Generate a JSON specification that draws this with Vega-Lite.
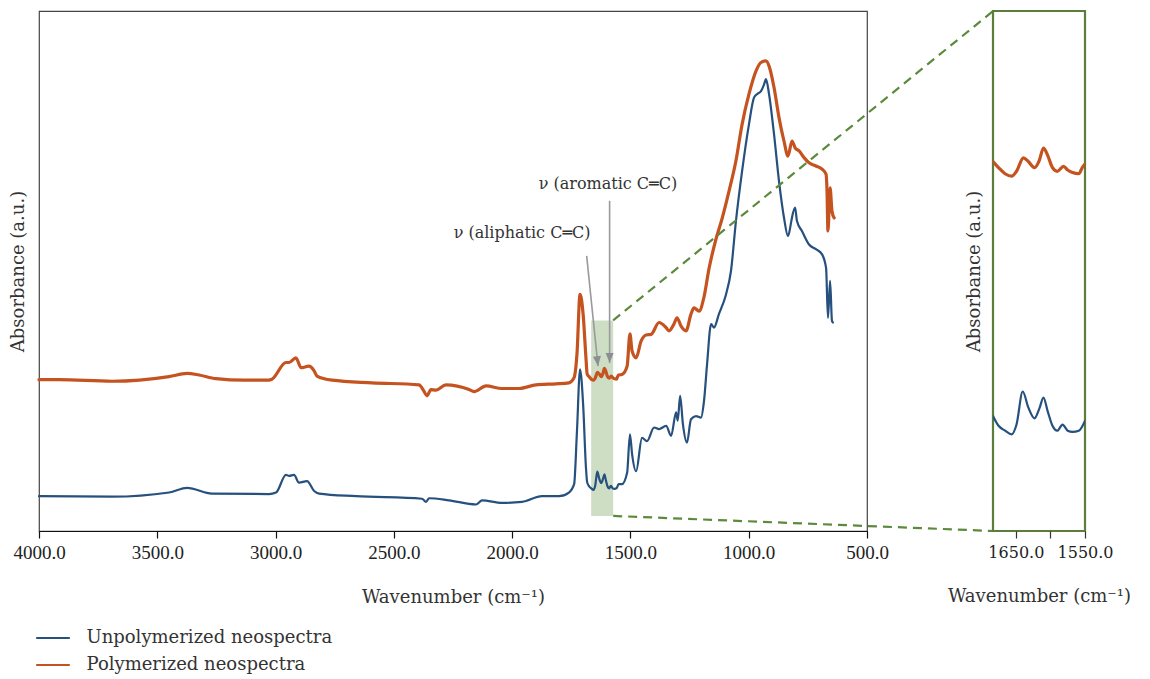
{
  "$schema": "https://vega.github.io/schema/vega-lite/v6.json",
  "background": "white",
  "padding": {"left": 8, "top": 9, "right": 5, "bottom": 5},
  "spacing": 126,
  "bounds": "flush",
  "config": {
    "axis": {"grid": false, "titleFont": "DejaVu Serif", "titleFontWeight": "normal", "titleFontSize": 18, "titleColor": "#333", "labelFlush": false}
  },
  "datasets": {
    "spectra": [
      {"series": "Polymerized neospectra", "wn": 4000, "a": 0.291},
      {"series": "Polymerized neospectra", "wn": 3915, "a": 0.291},
      {"series": "Polymerized neospectra", "wn": 3691, "a": 0.288},
      {"series": "Polymerized neospectra", "wn": 3450, "a": 0.297},
      {"series": "Polymerized neospectra", "wn": 3374, "a": 0.303},
      {"series": "Polymerized neospectra", "wn": 3324, "a": 0.300},
      {"series": "Polymerized neospectra", "wn": 3252, "a": 0.293},
      {"series": "Polymerized neospectra", "wn": 3133, "a": 0.290},
      {"series": "Polymerized neospectra", "wn": 3028, "a": 0.290},
      {"series": "Polymerized neospectra", "wn": 3015, "a": 0.292},
      {"series": "Polymerized neospectra", "wn": 2956, "a": 0.324},
      {"series": "Polymerized neospectra", "wn": 2943, "a": 0.324},
      {"series": "Polymerized neospectra", "wn": 2914, "a": 0.333},
      {"series": "Polymerized neospectra", "wn": 2892, "a": 0.314},
      {"series": "Polymerized neospectra", "wn": 2859, "a": 0.317},
      {"series": "Polymerized neospectra", "wn": 2837, "a": 0.308},
      {"series": "Polymerized neospectra", "wn": 2825, "a": 0.298},
      {"series": "Polymerized neospectra", "wn": 2761, "a": 0.290},
      {"series": "Polymerized neospectra", "wn": 2592, "a": 0.285},
      {"series": "Polymerized neospectra", "wn": 2394, "a": 0.281},
      {"series": "Polymerized neospectra", "wn": 2373, "a": 0.269},
      {"series": "Polymerized neospectra", "wn": 2360, "a": 0.260},
      {"series": "Polymerized neospectra", "wn": 2343, "a": 0.272},
      {"series": "Polymerized neospectra", "wn": 2322, "a": 0.271},
      {"series": "Polymerized neospectra", "wn": 2280, "a": 0.281},
      {"series": "Polymerized neospectra", "wn": 2182, "a": 0.272},
      {"series": "Polymerized neospectra", "wn": 2161, "a": 0.268},
      {"series": "Polymerized neospectra", "wn": 2110, "a": 0.279},
      {"series": "Polymerized neospectra", "wn": 2043, "a": 0.274},
      {"series": "Polymerized neospectra", "wn": 1971, "a": 0.274},
      {"series": "Polymerized neospectra", "wn": 1899, "a": 0.281},
      {"series": "Polymerized neospectra", "wn": 1815, "a": 0.283},
      {"series": "Polymerized neospectra", "wn": 1760, "a": 0.285},
      {"series": "Polymerized neospectra", "wn": 1738, "a": 0.295},
      {"series": "Polymerized neospectra", "wn": 1726, "a": 0.340},
      {"series": "Polymerized neospectra", "wn": 1713, "a": 0.455},
      {"series": "Polymerized neospectra", "wn": 1700, "a": 0.417},
      {"series": "Polymerized neospectra", "wn": 1688, "a": 0.333},
      {"series": "Polymerized neospectra", "wn": 1683, "a": 0.302},
      {"series": "Polymerized neospectra", "wn": 1675, "a": 0.297},
      {"series": "Polymerized neospectra", "wn": 1665.5, "a": 0.292},
      {"series": "Polymerized neospectra", "wn": 1656, "a": 0.290},
      {"series": "Polymerized neospectra", "wn": 1649, "a": 0.294},
      {"series": "Polymerized neospectra", "wn": 1639, "a": 0.305},
      {"series": "Polymerized neospectra", "wn": 1632, "a": 0.302},
      {"series": "Polymerized neospectra", "wn": 1623, "a": 0.297},
      {"series": "Polymerized neospectra", "wn": 1616, "a": 0.303},
      {"series": "Polymerized neospectra", "wn": 1610, "a": 0.313},
      {"series": "Polymerized neospectra", "wn": 1604, "a": 0.307},
      {"series": "Polymerized neospectra", "wn": 1597, "a": 0.297},
      {"series": "Polymerized neospectra", "wn": 1590, "a": 0.294},
      {"series": "Polymerized neospectra", "wn": 1581, "a": 0.298},
      {"series": "Polymerized neospectra", "wn": 1575, "a": 0.295},
      {"series": "Polymerized neospectra", "wn": 1568, "a": 0.293},
      {"series": "Polymerized neospectra", "wn": 1559, "a": 0.292},
      {"series": "Polymerized neospectra", "wn": 1554, "a": 0.297},
      {"series": "Polymerized neospectra", "wn": 1550, "a": 0.300},
      {"series": "Polymerized neospectra", "wn": 1536, "a": 0.301},
      {"series": "Polymerized neospectra", "wn": 1514, "a": 0.317},
      {"series": "Polymerized neospectra", "wn": 1502, "a": 0.379},
      {"series": "Polymerized neospectra", "wn": 1493, "a": 0.346},
      {"series": "Polymerized neospectra", "wn": 1476, "a": 0.333},
      {"series": "Polymerized neospectra", "wn": 1455, "a": 0.365},
      {"series": "Polymerized neospectra", "wn": 1434, "a": 0.377},
      {"series": "Polymerized neospectra", "wn": 1413, "a": 0.378},
      {"series": "Polymerized neospectra", "wn": 1379, "a": 0.401},
      {"series": "Polymerized neospectra", "wn": 1349, "a": 0.391},
      {"series": "Polymerized neospectra", "wn": 1337, "a": 0.385},
      {"series": "Polymerized neospectra", "wn": 1316, "a": 0.398},
      {"series": "Polymerized neospectra", "wn": 1303, "a": 0.410},
      {"series": "Polymerized neospectra", "wn": 1286, "a": 0.394},
      {"series": "Polymerized neospectra", "wn": 1265, "a": 0.385},
      {"series": "Polymerized neospectra", "wn": 1244, "a": 0.417},
      {"series": "Polymerized neospectra", "wn": 1231, "a": 0.429},
      {"series": "Polymerized neospectra", "wn": 1210, "a": 0.423},
      {"series": "Polymerized neospectra", "wn": 1189, "a": 0.450},
      {"series": "Polymerized neospectra", "wn": 1168, "a": 0.504},
      {"series": "Polymerized neospectra", "wn": 1138, "a": 0.562},
      {"series": "Polymerized neospectra", "wn": 1113, "a": 0.600},
      {"series": "Polymerized neospectra", "wn": 1083, "a": 0.654},
      {"series": "Polymerized neospectra", "wn": 1054, "a": 0.712},
      {"series": "Polymerized neospectra", "wn": 1028, "a": 0.782},
      {"series": "Polymerized neospectra", "wn": 999, "a": 0.840},
      {"series": "Polymerized neospectra", "wn": 969, "a": 0.885},
      {"series": "Polymerized neospectra", "wn": 948, "a": 0.901},
      {"series": "Polymerized neospectra", "wn": 927, "a": 0.904},
      {"series": "Polymerized neospectra", "wn": 914, "a": 0.894},
      {"series": "Polymerized neospectra", "wn": 893, "a": 0.853},
      {"series": "Polymerized neospectra", "wn": 872, "a": 0.795},
      {"series": "Polymerized neospectra", "wn": 851, "a": 0.750},
      {"series": "Polymerized neospectra", "wn": 834, "a": 0.721},
      {"series": "Polymerized neospectra", "wn": 817, "a": 0.750},
      {"series": "Polymerized neospectra", "wn": 804, "a": 0.737},
      {"series": "Polymerized neospectra", "wn": 787, "a": 0.731},
      {"series": "Polymerized neospectra", "wn": 766, "a": 0.718},
      {"series": "Polymerized neospectra", "wn": 745, "a": 0.708},
      {"series": "Polymerized neospectra", "wn": 716, "a": 0.702},
      {"series": "Polymerized neospectra", "wn": 690, "a": 0.696},
      {"series": "Polymerized neospectra", "wn": 673, "a": 0.686},
      {"series": "Polymerized neospectra", "wn": 669, "a": 0.654},
      {"series": "Polymerized neospectra", "wn": 665, "a": 0.577},
      {"series": "Polymerized neospectra", "wn": 656, "a": 0.660},
      {"series": "Polymerized neospectra", "wn": 648, "a": 0.615},
      {"series": "Polymerized neospectra", "wn": 639, "a": 0.602},

      {"series": "Unpolymerized neospectra", "wn": 4000, "a": 0.067},
      {"series": "Unpolymerized neospectra", "wn": 3691, "a": 0.066},
      {"series": "Unpolymerized neospectra", "wn": 3450, "a": 0.074},
      {"series": "Unpolymerized neospectra", "wn": 3374, "a": 0.083},
      {"series": "Unpolymerized neospectra", "wn": 3269, "a": 0.072},
      {"series": "Unpolymerized neospectra", "wn": 3028, "a": 0.071},
      {"series": "Unpolymerized neospectra", "wn": 2998, "a": 0.074},
      {"series": "Unpolymerized neospectra", "wn": 2956, "a": 0.108},
      {"series": "Unpolymerized neospectra", "wn": 2943, "a": 0.106},
      {"series": "Unpolymerized neospectra", "wn": 2922, "a": 0.108},
      {"series": "Unpolymerized neospectra", "wn": 2901, "a": 0.093},
      {"series": "Unpolymerized neospectra", "wn": 2867, "a": 0.096},
      {"series": "Unpolymerized neospectra", "wn": 2837, "a": 0.077},
      {"series": "Unpolymerized neospectra", "wn": 2816, "a": 0.072},
      {"series": "Unpolymerized neospectra", "wn": 2660, "a": 0.067},
      {"series": "Unpolymerized neospectra", "wn": 2381, "a": 0.062},
      {"series": "Unpolymerized neospectra", "wn": 2364, "a": 0.056},
      {"series": "Unpolymerized neospectra", "wn": 2351, "a": 0.063},
      {"series": "Unpolymerized neospectra", "wn": 2267, "a": 0.059},
      {"series": "Unpolymerized neospectra", "wn": 2153, "a": 0.051},
      {"series": "Unpolymerized neospectra", "wn": 2127, "a": 0.059},
      {"series": "Unpolymerized neospectra", "wn": 2043, "a": 0.054},
      {"series": "Unpolymerized neospectra", "wn": 1958, "a": 0.056},
      {"series": "Unpolymerized neospectra", "wn": 1874, "a": 0.067},
      {"series": "Unpolymerized neospectra", "wn": 1802, "a": 0.067},
      {"series": "Unpolymerized neospectra", "wn": 1760, "a": 0.074},
      {"series": "Unpolymerized neospectra", "wn": 1738, "a": 0.090},
      {"series": "Unpolymerized neospectra", "wn": 1726, "a": 0.192},
      {"series": "Unpolymerized neospectra", "wn": 1713, "a": 0.311},
      {"series": "Unpolymerized neospectra", "wn": 1700, "a": 0.244},
      {"series": "Unpolymerized neospectra", "wn": 1688, "a": 0.122},
      {"series": "Unpolymerized neospectra", "wn": 1683, "a": 0.094},
      {"series": "Unpolymerized neospectra", "wn": 1675, "a": 0.086},
      {"series": "Unpolymerized neospectra", "wn": 1665.5, "a": 0.082},
      {"series": "Unpolymerized neospectra", "wn": 1656, "a": 0.079},
      {"series": "Unpolymerized neospectra", "wn": 1649, "a": 0.087},
      {"series": "Unpolymerized neospectra", "wn": 1640, "a": 0.114},
      {"series": "Unpolymerized neospectra", "wn": 1632, "a": 0.101},
      {"series": "Unpolymerized neospectra", "wn": 1623, "a": 0.092},
      {"series": "Unpolymerized neospectra", "wn": 1616, "a": 0.100},
      {"series": "Unpolymerized neospectra", "wn": 1610, "a": 0.109},
      {"series": "Unpolymerized neospectra", "wn": 1604, "a": 0.098},
      {"series": "Unpolymerized neospectra", "wn": 1597, "a": 0.086},
      {"series": "Unpolymerized neospectra", "wn": 1590, "a": 0.082},
      {"series": "Unpolymerized neospectra", "wn": 1582.5, "a": 0.087},
      {"series": "Unpolymerized neospectra", "wn": 1575, "a": 0.082},
      {"series": "Unpolymerized neospectra", "wn": 1568, "a": 0.081},
      {"series": "Unpolymerized neospectra", "wn": 1559, "a": 0.082},
      {"series": "Unpolymerized neospectra", "wn": 1550, "a": 0.090},
      {"series": "Unpolymerized neospectra", "wn": 1536, "a": 0.090},
      {"series": "Unpolymerized neospectra", "wn": 1514, "a": 0.112},
      {"series": "Unpolymerized neospectra", "wn": 1502, "a": 0.186},
      {"series": "Unpolymerized neospectra", "wn": 1493, "a": 0.148},
      {"series": "Unpolymerized neospectra", "wn": 1476, "a": 0.115},
      {"series": "Unpolymerized neospectra", "wn": 1451, "a": 0.179},
      {"series": "Unpolymerized neospectra", "wn": 1430, "a": 0.173},
      {"series": "Unpolymerized neospectra", "wn": 1400, "a": 0.199},
      {"series": "Unpolymerized neospectra", "wn": 1379, "a": 0.196},
      {"series": "Unpolymerized neospectra", "wn": 1349, "a": 0.202},
      {"series": "Unpolymerized neospectra", "wn": 1328, "a": 0.183},
      {"series": "Unpolymerized neospectra", "wn": 1307, "a": 0.228},
      {"series": "Unpolymerized neospectra", "wn": 1300, "a": 0.212},
      {"series": "Unpolymerized neospectra", "wn": 1290, "a": 0.260},
      {"series": "Unpolymerized neospectra", "wn": 1278, "a": 0.205},
      {"series": "Unpolymerized neospectra", "wn": 1261, "a": 0.170},
      {"series": "Unpolymerized neospectra", "wn": 1244, "a": 0.215},
      {"series": "Unpolymerized neospectra", "wn": 1223, "a": 0.221},
      {"series": "Unpolymerized neospectra", "wn": 1202, "a": 0.218},
      {"series": "Unpolymerized neospectra", "wn": 1189, "a": 0.250},
      {"series": "Unpolymerized neospectra", "wn": 1176, "a": 0.321},
      {"series": "Unpolymerized neospectra", "wn": 1159, "a": 0.398},
      {"series": "Unpolymerized neospectra", "wn": 1147, "a": 0.391},
      {"series": "Unpolymerized neospectra", "wn": 1126, "a": 0.417},
      {"series": "Unpolymerized neospectra", "wn": 1096, "a": 0.455},
      {"series": "Unpolymerized neospectra", "wn": 1075, "a": 0.500},
      {"series": "Unpolymerized neospectra", "wn": 1054, "a": 0.596},
      {"series": "Unpolymerized neospectra", "wn": 1028, "a": 0.692},
      {"series": "Unpolymerized neospectra", "wn": 999, "a": 0.782},
      {"series": "Unpolymerized neospectra", "wn": 978, "a": 0.833},
      {"series": "Unpolymerized neospectra", "wn": 965, "a": 0.840},
      {"series": "Unpolymerized neospectra", "wn": 948, "a": 0.846},
      {"series": "Unpolymerized neospectra", "wn": 935, "a": 0.859},
      {"series": "Unpolymerized neospectra", "wn": 927, "a": 0.869},
      {"series": "Unpolymerized neospectra", "wn": 914, "a": 0.840},
      {"series": "Unpolymerized neospectra", "wn": 893, "a": 0.763},
      {"series": "Unpolymerized neospectra", "wn": 872, "a": 0.673},
      {"series": "Unpolymerized neospectra", "wn": 851, "a": 0.603},
      {"series": "Unpolymerized neospectra", "wn": 834, "a": 0.567},
      {"series": "Unpolymerized neospectra", "wn": 821, "a": 0.593},
      {"series": "Unpolymerized neospectra", "wn": 817, "a": 0.603},
      {"series": "Unpolymerized neospectra", "wn": 804, "a": 0.622},
      {"series": "Unpolymerized neospectra", "wn": 796, "a": 0.596},
      {"series": "Unpolymerized neospectra", "wn": 775, "a": 0.577},
      {"series": "Unpolymerized neospectra", "wn": 745, "a": 0.551},
      {"series": "Unpolymerized neospectra", "wn": 716, "a": 0.542},
      {"series": "Unpolymerized neospectra", "wn": 690, "a": 0.532},
      {"series": "Unpolymerized neospectra", "wn": 673, "a": 0.506},
      {"series": "Unpolymerized neospectra", "wn": 665, "a": 0.410},
      {"series": "Unpolymerized neospectra", "wn": 656, "a": 0.481},
      {"series": "Unpolymerized neospectra", "wn": 648, "a": 0.404},
      {"series": "Unpolymerized neospectra", "wn": 644, "a": 0.401}
    ],
    "zoomWindow": [
      {"wn": 1666, "wn2": 1573, "a": 0.029, "a2": 0.405}
    ],
    "connectors": [
      {"wn": 1573, "a": 0.405, "wn2": -33, "a2": 1.0},
      {"wn": 1573, "a": 0.029, "wn2": -33, "a2": 0.0}
    ],
    "notes": [
      {"label": "ν (aromatic C═C)", "tx": 1595, "ty": 0.667, "x0": 1588, "y0": 0.635, "x1": 1588, "y1": 0.323},
      {"label": "ν (aliphatic C═C)", "tx": 1958, "ty": 0.573, "x0": 1685, "y0": 0.529, "x1": 1637, "y1": 0.317}
    ]
  },
  "hconcat": [
    {
      "width": 828,
      "height": 520,
      "view": {"stroke": "#444", "strokeWidth": 1.2},
      "layer": [
        {
          "data": {"name": "zoomWindow"},
          "mark": {"type": "rect", "fill": "#9dbd8c", "opacity": 0.5},
          "encoding": {
            "x": {"field": "wn", "type": "quantitative"},
            "x2": {"field": "wn2"},
            "y": {"field": "a", "type": "quantitative"},
            "y2": {"field": "a2"}
          }
        },
        {
          "data": {"name": "spectra"},
          "transform": [{"filter": "datum.series == 'Unpolymerized neospectra'"}],
          "mark": {"type": "line", "interpolate": "monotone", "strokeWidth": 2.2, "strokeJoin": "round", "strokeCap": "round"},
          "encoding": {
            "x": {
              "field": "wn", "type": "quantitative",
              "scale": {"domain": [500, 4000], "reverse": true, "nice": false, "zero": false},
              "axis": {
                "values": [4000, 3500, 3000, 2500, 2000, 1500, 1000, 500],
                "format": ".1f", "title": "Wavenumber (cm⁻¹)",
                "labelFont": "Liberation Serif", "labelFontSize": 19, "labelColor": "#222",
                "domainColor": "#111", "domainWidth": 1.2, "tickColor": "#111", "tickWidth": 1.2, "tickSize": 7,
                "labelPadding": 5, "titlePadding": 26
              }
            },
            "y": {
              "field": "a", "type": "quantitative",
              "scale": {"domain": [0, 1], "nice": false, "zero": false},
              "axis": {"title": "Absorbance (a.u.)", "labels": false, "ticks": false, "domain": false, "titlePadding": 12}
            },
            "color": {
              "field": "series", "type": "nominal",
              "scale": {"domain": ["Unpolymerized neospectra", "Polymerized neospectra"], "range": ["#26507d", "#c5531f"]},
              "legend": {
                "title": null, "orient": "none", "legendX": 2, "legendY": 615, "padding": 0,
                "labelFont": "DejaVu Serif", "labelFontSize": 18, "labelColor": "#333", "labelOffset": 21.5, "labelLimit": 0,
                "symbolType": "M-1.6,0H1.6", "symbolSize": 441, "symbolStrokeWidth": 2.2, "rowPadding": 6
              }
            }
          }
        },
        {
          "data": {"name": "spectra"},
          "transform": [{"filter": "datum.series == 'Polymerized neospectra'"}],
          "mark": {"type": "line", "interpolate": "monotone", "strokeWidth": 3.2, "strokeJoin": "round", "strokeCap": "round"},
          "encoding": {
            "x": {"field": "wn", "type": "quantitative"},
            "y": {"field": "a", "type": "quantitative"},
            "color": {"field": "series", "type": "nominal"}
          }
        },
        {
          "data": {"name": "connectors"},
          "mark": {"type": "rule", "color": "#5c8a3c", "strokeWidth": 2.2, "strokeDash": [9, 6]},
          "encoding": {
            "x": {"field": "wn", "type": "quantitative"},
            "x2": {"field": "wn2"},
            "y": {"field": "a", "type": "quantitative"},
            "y2": {"field": "a2"}
          }
        },
        {
          "data": {"name": "notes"},
          "mark": {"type": "rule", "color": "#9a9a9e", "strokeWidth": 1.6},
          "encoding": {
            "x": {"field": "x0", "type": "quantitative"},
            "x2": {"field": "x1"},
            "y": {"field": "y0", "type": "quantitative"},
            "y2": {"field": "y1"}
          }
        },
        {
          "data": {"name": "notes"},
          "transform": [{"filter": "indexof(datum.label, 'aromatic') >= 0"}],
          "mark": {"type": "point", "shape": "M-0.8,-2L0,0L0.8,-2Z", "size": 100, "filled": true, "color": "#8e8e92", "opacity": 1},
          "encoding": {
            "x": {"field": "x1", "type": "quantitative"},
            "y": {"field": "y1", "type": "quantitative"}
          }
        },
        {
          "data": {"name": "notes"},
          "transform": [{"filter": "indexof(datum.label, 'aliphatic') >= 0"}],
          "mark": {"type": "point", "shape": "M-0.8,-2L0,0L0.8,-2Z", "size": 100, "filled": true, "color": "#8e8e92", "opacity": 1, "angle": -6},
          "encoding": {
            "x": {"field": "x1", "type": "quantitative"},
            "y": {"field": "y1", "type": "quantitative"}
          }
        },
        {
          "data": {"name": "notes"},
          "mark": {"type": "text", "font": "DejaVu Serif", "fontSize": 16, "color": "#333", "align": "center", "baseline": "middle"},
          "encoding": {
            "x": {"field": "tx", "type": "quantitative"},
            "y": {"field": "ty", "type": "quantitative"},
            "text": {"field": "label"}
          }
        }
      ]
    },
    {
      "width": 92,
      "height": 520,
      "view": {"stroke": "#5b7e3a", "strokeWidth": 2.2},
      "data": {"name": "spectra"},
      "transform": [{"filter": "datum.wn >= 1550 && datum.wn <= 1683"}],
      "layer": [
        {
          "transform": [{"filter": "datum.series == 'Unpolymerized neospectra'"}],
          "mark": {"type": "line", "interpolate": "monotone", "clip": true, "strokeWidth": 2.2, "strokeJoin": "round", "strokeCap": "round"},
          "encoding": {
            "x": {
              "field": "wn", "type": "quantitative",
              "scale": {"domain": [1550, 1683], "reverse": true, "nice": false, "zero": false},
              "axis": {
                "values": [1650, 1600, 1550],
                "labelExpr": "datum.value == 1600 ? '' : format(datum.value, '.1f')",
                "title": "Wavenumber (cm⁻¹)", "domain": false,
                "labelFont": "DejaVu Serif", "labelFontSize": 16, "labelColor": "#222",
                "tickColor": "#333", "tickWidth": 1.2, "tickSize": 7,
                "labelPadding": 6, "titlePadding": 27
              }
            },
            "y": {
              "field": "a", "type": "quantitative",
              "scale": {"domain": [0, 0.425], "nice": false, "zero": false},
              "axis": {"title": "Absorbance (a.u.)", "labels": false, "ticks": false, "domain": false, "titlePadding": 10}
            },
            "color": {"field": "series", "type": "nominal"}
          }
        },
        {
          "transform": [{"filter": "datum.series == 'Polymerized neospectra'"}],
          "mark": {"type": "line", "interpolate": "monotone", "clip": true, "strokeWidth": 3.2, "strokeJoin": "round", "strokeCap": "round"},
          "encoding": {
            "x": {"field": "wn", "type": "quantitative"},
            "y": {"field": "a", "type": "quantitative"},
            "color": {"field": "series", "type": "nominal"}
          }
        }
      ]
    }
  ]
}
